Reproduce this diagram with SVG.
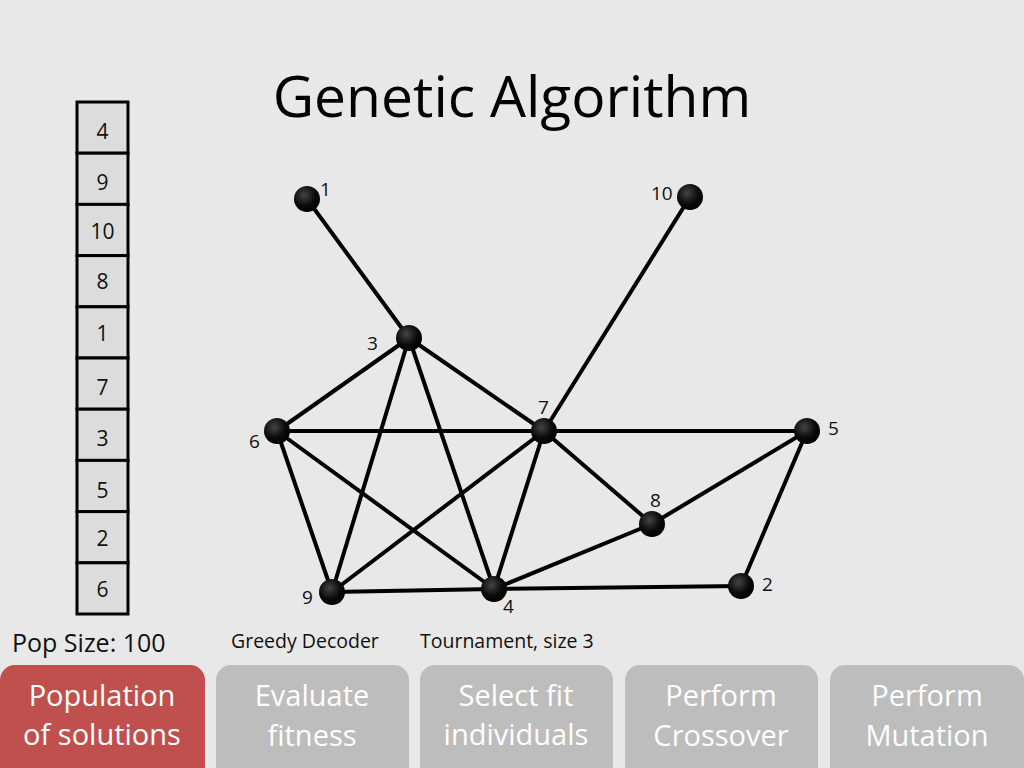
<svg xmlns="http://www.w3.org/2000/svg" width="1024" height="768" viewBox="0 0 1024 768">
<style>
.bg{fill:#e8e8e8}
.cell{fill:#dcdcdc;stroke:#000;stroke-width:3}
.ct{font-family:"Open Sans","Noto Sans",sans-serif;font-size:21px;fill:#111;text-anchor:middle}
.edge{stroke:#000;stroke-width:4;stroke-linecap:round;fill:none}
.node{fill:url(#ng)}
.nl{font-family:"Open Sans","Noto Sans",sans-serif;font-size:19px;fill:#111}
.lbl{font-family:"Open Sans","Noto Sans",sans-serif;fill:#111}
.btn{fill:#bdbdbd}
.btnr{fill:#c0504d}
.bt{font-family:"Open Sans","Noto Sans",sans-serif;font-size:29px;fill:#fff;text-anchor:middle}
</style>
<defs>
<radialGradient id="ng" cx="0.4" cy="0.35" r="0.7">
<stop offset="0" stop-color="#444"/>
<stop offset="0.6" stop-color="#0a0a0a"/>
<stop offset="1" stop-color="#000"/>
</radialGradient>
</defs>
<rect class="bg" x="0" y="0" width="1024" height="768"/>
<text x="512" y="117" text-anchor="middle" font-family="'Open Sans','Noto Sans',sans-serif" font-size="57" fill="#000">Genetic Algorithm</text>

<g id="population">
<rect class="cell" x="77" y="102" width="51" height="51.2"/><text class="ct" x="102.5" y="139">4</text>
<rect class="cell" x="77" y="153.2" width="51" height="51.2"/><text class="ct" x="102.5" y="190">9</text>
<rect class="cell" x="77" y="204.4" width="51" height="51.2"/><text class="ct" x="102.5" y="239" font-size="19">10</text>
<rect class="cell" x="77" y="255.6" width="51" height="51.2"/><text class="ct" x="102.5" y="289">8</text>
<rect class="cell" x="77" y="306.8" width="51" height="51.2"/><text class="ct" x="102.5" y="341" font-size="18">1</text>
<rect class="cell" x="77" y="358" width="51" height="51.2"/><text class="ct" x="102.5" y="395">7</text>
<rect class="cell" x="77" y="409.2" width="51" height="51.2"/><text class="ct" x="102.5" y="446">3</text>
<rect class="cell" x="77" y="460.4" width="51" height="51.2"/><text class="ct" x="102.5" y="498">5</text>
<rect class="cell" x="77" y="511.6" width="51" height="51.2"/><text class="ct" x="102.5" y="546" font-size="18">2</text>
<rect class="cell" x="77" y="562.8" width="51" height="51.2"/><text class="ct" x="102.5" y="597">6</text>
</g>

<g id="connectors">
<line class="edge" x1="307" y1="199" x2="409" y2="338"/>
<line class="edge" x1="690" y1="197" x2="544" y2="431"/>
<line class="edge" x1="409" y1="338" x2="277" y2="431"/>
<line class="edge" x1="409" y1="338" x2="544" y2="431"/>
<line class="edge" x1="409" y1="338" x2="332" y2="592"/>
<line class="edge" x1="409" y1="338" x2="494" y2="589"/>
<line class="edge" x1="277" y1="431" x2="807" y2="431"/>
<line class="edge" x1="277" y1="431" x2="332" y2="592"/>
<line class="edge" x1="277" y1="431" x2="494" y2="589"/>
<line class="edge" x1="544" y1="431" x2="332" y2="592"/>
<line class="edge" x1="544" y1="431" x2="494" y2="589"/>
<line class="edge" x1="544" y1="431" x2="652" y2="524"/>
<line class="edge" x1="652" y1="524" x2="807" y2="431"/>
<line class="edge" x1="652" y1="524" x2="494" y2="589"/>
<line class="edge" x1="807" y1="431" x2="741" y2="586"/>
<line class="edge" x1="332" y1="592" x2="494" y2="589"/>
<line class="edge" x1="494" y1="589" x2="741" y2="586"/>
</g>

<g id="n1"><circle class="node" cx="307" cy="199" r="13"/><text class="nl" x="320" y="196" font-size="16">1</text></g>
<g id="n10"><circle class="node" cx="690" cy="197" r="13"/><text class="nl" x="651" y="200" font-size="16">10</text></g>
<g id="n3"><circle class="node" cx="409" cy="338" r="13"/><text class="nl" x="367" y="350" font-size="21">3</text></g>
<g id="n7"><circle class="node" cx="544" cy="431" r="13"/><text class="nl" x="538" y="414">7</text></g>
<g id="n6"><circle class="node" cx="277" cy="431" r="13"/><text class="nl" x="249" y="448" font-size="21">6</text></g>
<g id="n5"><circle class="node" cx="807" cy="431" r="13"/><text class="nl" x="828" y="435">5</text></g>
<g id="n8"><circle class="node" cx="652" cy="524" r="13"/><text class="nl" x="650" y="507">8</text></g>
<g id="n2"><circle class="node" cx="741" cy="586" r="13"/><text class="nl" x="762" y="591" font-size="17">2</text></g>
<g id="n9"><circle class="node" cx="332" cy="592" r="13"/><text class="nl" x="302" y="604" font-size="20">9</text></g>
<g id="n4"><circle class="node" cx="494" cy="589" r="13"/><text class="nl" x="503" y="613" font-size="20">4</text></g>

<text class="lbl" x="12" y="652" font-size="25">Pop Size: 100</text>
<text class="lbl" x="231" y="648" font-size="19.5">Greedy Decoder</text>
<text class="lbl" x="420" y="648" font-size="19.5">Tournament, size 3</text>

<g id="b1"><rect class="btnr" x="0" y="665" width="205" height="120" rx="15"/><text class="bt" x="102" y="706">Population</text><text class="bt" x="102" y="745">of solutions</text></g>
<g id="b2"><rect class="btn" x="216" y="665" width="193" height="120" rx="15"/><text class="bt" x="312" y="706">Evaluate</text><text class="bt" x="312" y="746">fitness</text></g>
<g id="b3"><rect class="btn" x="420" y="665" width="193" height="120" rx="15"/><text class="bt" x="516" y="706">Select fit</text><text class="bt" x="516" y="745">individuals</text></g>
<g id="b4"><rect class="btn" x="625" y="665" width="193" height="120" rx="15"/><text class="bt" x="721" y="706">Perform</text><text class="bt" x="721" y="746">Crossover</text></g>
<g id="b5"><rect class="btn" x="830" y="665" width="194" height="120" rx="15"/><text class="bt" x="927" y="706">Perform</text><text class="bt" x="927" y="746">Mutation</text></g>
</svg>
